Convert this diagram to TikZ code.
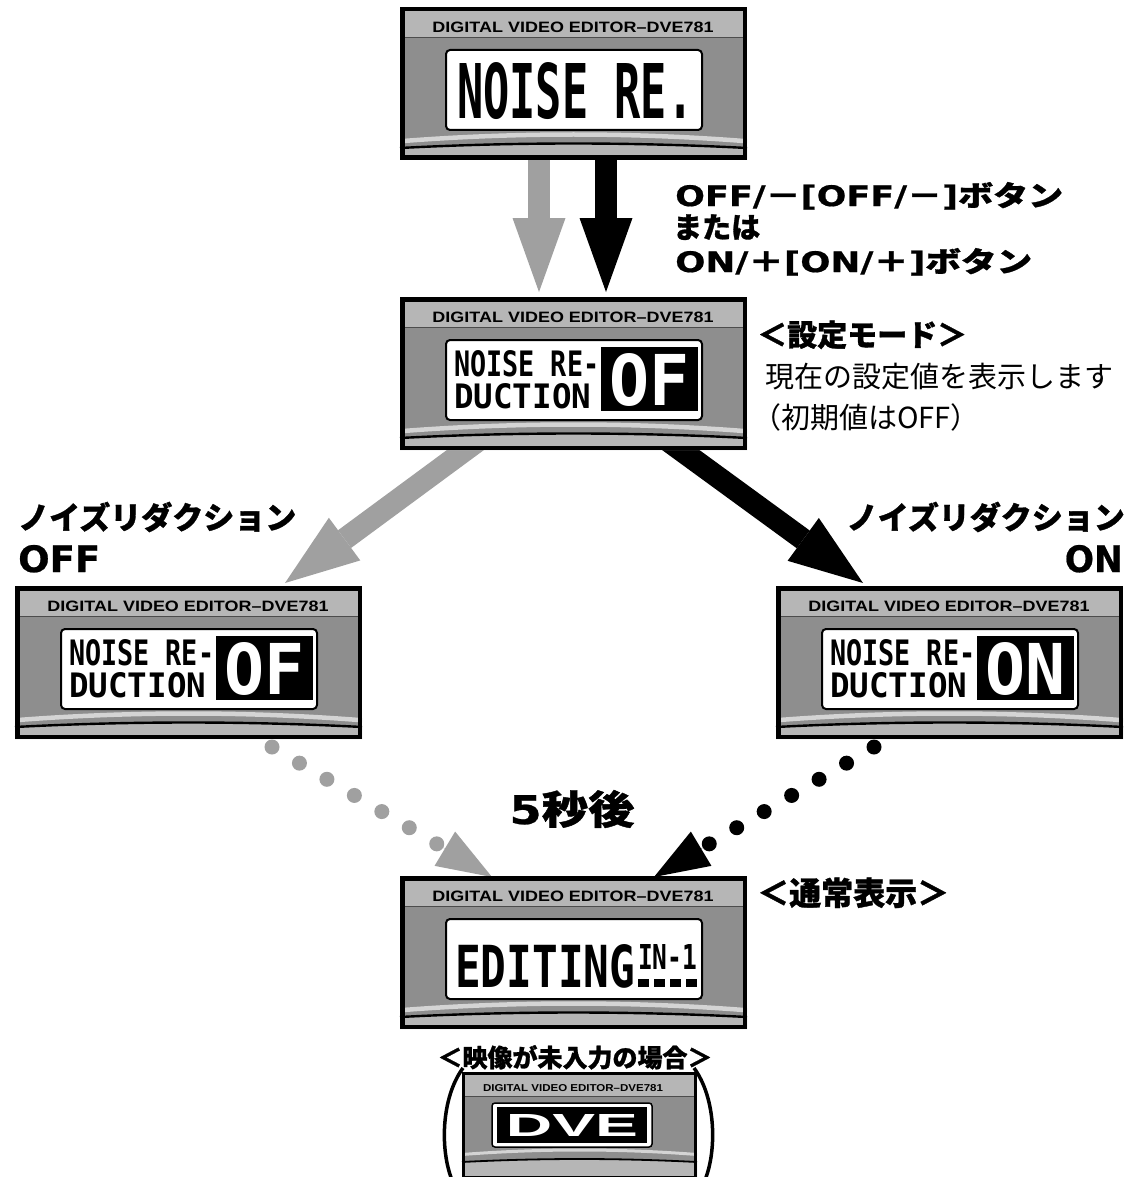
\documentclass[tikz,border=0pt]{standalone}
\usepackage{fontspec}
\usepackage{graphicx}
\usetikzlibrary{arrows.meta}
\newfontfamily\jp{Noto Sans CJK JP}[BoldFeatures={FakeBold=1}]
\newfontfamily\dejavu{DejaVu Sans}[BoldFeatures={FakeBold=0.6}]
\newfontfamily\lcdfont{DejaVu Sans Mono}
\newfontfamily\hdrfont{Liberation Sans}
\definecolor{hdgray}{HTML}{B6B6B6}
\definecolor{bodygray}{HTML}{8E8E8E}
\definecolor{arrgray}{HTML}{A0A0A0}
\definecolor{archgray}{HTML}{D4D4D4}
\tikzset{
  frame/.style={draw, line width=4.5pt, minimum width=342.5pt, minimum height=148.5pt, inner sep=0pt},
  hdr/.style={inner sep=0pt, font=\hdrfont\bfseries},
  lcd/.style={inner sep=0pt, anchor=north west, font=\lcdfont\bfseries},
  jpb/.style={inner sep=0pt, font={\jp\bfseries\fontsize{#1}{#1}\selectfont}},
  jpr/.style={inner sep=0pt, font={\jp\fontsize{#1}{#1}\selectfont}},
  fatgray/.style={draw=arrgray, line width=22pt, -{Triangle[width=53pt,length=74pt,line width=0pt]}},
  fatblack/.style={draw=black, line width=22pt, -{Triangle[width=53pt,length=74pt,line width=0pt]}},
  dotgray/.style={draw=arrgray, line width=15pt, line cap=round, dash pattern=on 0pt off 31.85pt},
  dotblack/.style={draw=black, line width=15pt, line cap=round, dash pattern=on 0pt off 31.85pt},
  tipgray/.style={draw=arrgray, line width=0.1pt, -{Triangle[width=40pt,length=55pt,line width=0pt]}},
  tipblack/.style={draw=black, line width=0.1pt, -{Triangle[width=40pt,length=55pt,line width=0pt]}},
  parenline/.style={line width=3.5pt}
}
% frame of one editor display, drawn in local coordinates (347 x 153)
\newcommand{\dveframe}[1]{%
  \fill[bodygray] (0,0) rectangle (347,153);
  \fill[hdgray] (0,0) rectangle (347,30);
  \draw[line width=1.2pt, black!70] (0,30.6) -- (347,30.6);
  \fill[archgray] (0,132) .. controls (115,123) and (232,123) .. (347,132) -- (347,136.5) .. controls (232,127.5) and (115,127.5) .. (0,136.5) -- cycle;
  \fill[hdgray] (0,141) .. controls (115,135) and (232,135) .. (347,141) -- (347,153) -- (0,153) -- cycle;
  \draw[line width=2.4pt] (0,141) .. controls (115,135) and (232,135) .. (347,141);
  \node[hdr] (#1-h) at (173,20) {\resizebox{281pt}{10.5pt}{DIGITAL VIDEO EDITOR–DVE781}};
  \node[frame] (#1) at (173.5,76.5) {};
  \draw[line width=2pt, fill=white, rounded corners=4pt] (46,43) rectangle (302,123);
}
\newcommand{\nrcontent}[2]{%
  \node[lcd] (#1-a) at (54,53) {\resizebox{145pt}{26pt}{NOISE RE-}};
  \node[lcd] (#1-b) at (54,86) {\resizebox{137pt}{25pt}{DUCTION}};
  \fill (201,50) rectangle (298,114);
  \node[lcd, text=white] (#1-c) at (209,56) {\resizebox{80pt}{52pt}{#2}};
}
\begin{document}
\begin{tikzpicture}[x=1pt,y=-1pt]
\useasboundingbox[fill=white] (0,0) rectangle (1126,1177);

% ---- connector coordinates
\coordinate (g1s) at (539,150);  \coordinate (g1e) at (539,292);
\coordinate (b1s) at (606,150);  \coordinate (b1e) at (606,292);
\coordinate (g2s) at (479,440);  \coordinate (g2e) at (285,583);
\coordinate (b2s) at (667,440);  \coordinate (b2e) at (863,583);
\coordinate (g3s) at (272,747);  \coordinate (g3m) at (437,844); \coordinate (g3e) at (492,877);
\coordinate (b3s) at (874,747);  \coordinate (b3m) at (709,844); \coordinate (b3e) at (654,877);

% ---- fat arrows (under the panels)
\draw[fatgray]  (g1s) -- (g1e);
\draw[fatblack] (b1s) -- (b1e);
\draw[fatgray]  (g2s) -- (g2e);
\draw[fatblack] (b2s) -- (b2e);

% ---- dotted connectors
\draw[dotgray]  (g3s) -- (g3m);
\draw[tipgray]  (g3m) -- (g3e);
\draw[dotblack] (b3s) -- (b3m);
\draw[tipblack] (b3m) -- (b3e);

% ---- panels
\begin{scope}[shift={(400,7)}]
  \dveframe{top}
  \node[lcd] (top-t) at (57,55) {\resizebox{236pt}{56pt}{NOISE RE.}};
\end{scope}

\begin{scope}[shift={(400,297)}]
  \dveframe{mid}
  \nrcontent{mid}{OF}
\end{scope}

\begin{scope}[shift={(15,586)}]
  \dveframe{left}
  \nrcontent{left}{OF}
\end{scope}

\begin{scope}[shift={(776,586)}]
  \dveframe{right}
  \nrcontent{right}{ON}
\end{scope}

\begin{scope}[shift={(400,876)}]
  \dveframe{bot}
  \node[lcd] (bot-a) at (55,68) {\resizebox{180pt}{43pt}{EDITING}};
  \node[lcd] (bot-b) at (238,68) {\resizebox{59pt}{25pt}{IN-1}};
  \foreach \i in {0,...,3} \fill ({238+\i*15.9},103) rectangle ({249.4+\i*15.9},111);
\end{scope}

% ---- small "no input" panel
\fill[bodygray] (462,1072) rectangle (697,1177);
\fill[hdgray] (462,1072) rectangle (697,1096);
\draw[line width=0.8pt, black!70] (462,1096.4) -- (697,1096.4);
\fill[archgray] (462,1153) .. controls (540,1147) and (619,1147) .. (697,1153) -- (697,1156) .. controls (619,1150) and (540,1150) .. (462,1156) -- cycle;
\fill[hdgray] (462,1162) .. controls (540,1158) and (619,1158) .. (697,1162) -- (697,1177) -- (462,1177) -- cycle;
\draw[line width=1.8pt] (462,1162) .. controls (540,1158) and (619,1158) .. (697,1162);
\node[hdr] (sm-h) at (573,1088) {\resizebox{180pt}{7pt}{DIGITAL VIDEO EDITOR–DVE781}};
\node[draw, line width=3pt, minimum width=232pt, minimum height=104pt, inner sep=0pt] (sm) at (579.5,1125) {};
\draw[line width=1.5pt, fill=white, rounded corners=3pt] (492,1103) rectangle (652,1147);
\fill (497,1107) rectangle (647,1143);
\node[inner sep=0pt, text=white, font=\hdrfont\bfseries] (sm-logo) at (572,1125) {\resizebox{132pt}{22pt}{DVE}};
\draw[parenline] (463,1068) .. controls (441,1098) and (440,1150) .. (452,1180);
\draw[parenline] (694,1068) .. controls (716,1098) and (717,1150) .. (705,1180);

% ---- labels
\node[jpb=30pt, anchor=base west] (lb1) at (675,206)
  {\resizebox{388pt}{24pt}{\dejavu OFF/\jp －\dejavu[OFF/\jp －\dejavu]\jp ボタン}};
\node[jpb=29pt, anchor=base west] (lb2) at (673,238) {または};
\node[jpb=30pt, anchor=base west] (lb3) at (675,272)
  {\resizebox{357pt}{24pt}{\dejavu ON/\jp ＋\dejavu[ON/\jp ＋\dejavu]\jp ボタン}};

\node[jpb=30pt, anchor=base west] (lset) at (757,346) {＜設定モード＞};
\node[jpr=29pt, anchor=base west] (lcur) at (765,387) {現在の設定値を表示します};
\node[jpr=29pt, anchor=base west] (linit) at (752,428) {（初期値はOFF）};

\node[jpb=31pt, anchor=base west] (loffa) at (18,529) {ノイズリダクション};
\node[jpb=31pt, anchor=base west] (loffb) at (18,572) {\resizebox{82pt}{27pt}{\dejavu OFF}};
\node[jpb=31pt, anchor=base east] (lona) at (1125,529) {ノイズリダクション};
\node[jpb=31pt, anchor=base east] (lonb) at (1123,572) {\resizebox{58pt}{27pt}{\dejavu ON}};

\node[jpb=42pt, anchor=base] (l5s) at (572,824) {\resizebox{125pt}{34pt}{\dejavu 5\jp 秒後}};
\node[jpb=32pt, anchor=base west] (lnorm) at (757,905) {＜通常表示＞};
\node[jpb=25pt, anchor=base] (lnoin) at (575,1067) {＜映像が未入力の場合＞};
\end{tikzpicture}
\end{document}
